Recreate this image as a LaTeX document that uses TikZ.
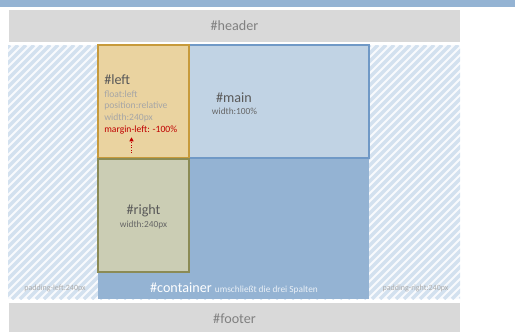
\documentclass[tikz,border=0pt]{standalone}
\usepackage{fontspec}
\setmainfont{Carlito}
\usetikzlibrary{arrows.meta}
\definecolor{bandblue}{HTML}{94B3D3}
\definecolor{mainfill}{HTML}{C1D3E4}
\definecolor{mainline}{HTML}{7099C6}
\definecolor{leftfill}{HTML}{EAD3A0}
\definecolor{leftline}{HTML}{C79A3B}
\definecolor{rightfill}{HTML}{CBCDB4}
\definecolor{rightline}{HTML}{8B8B55}
\definecolor{greybar}{HTML}{D9D9D9}
\definecolor{hatchbg}{HTML}{F8FAFD}
\definecolor{hatchline}{HTML}{D3E1EF}
\definecolor{darktext}{HTML}{595959}
\definecolor{softtext}{HTML}{A6A6A6}
\definecolor{marginred}{HTML}{C00000}
\tikzset{
  block/.style={rectangle, inner sep=0pt, minimum width=#1},
  title/.style={inner sep=0pt, text=darktext, font=\fontsize{10.6}{12}\selectfont},
  note/.style={inner sep=0pt, text=softtext, anchor=west, font=\fontsize{7.2}{8}\selectfont},
  hint/.style={inner sep=0pt, text=#1, font=\fontsize{7}{8}\selectfont},
  padnote/.style={inner sep=0pt, text=black!32, font=\fontsize{6}{7}\selectfont}
}

\begin{document}
\begin{tikzpicture}[x=0.75pt,y=-0.75pt]
\useasboundingbox (0,0) rectangle (515,332);
\node[block=386.25pt, minimum height=5.25pt, fill=bandblue] (band) at (257.5,3.5) {};
\node[block=338.25pt, minimum height=24pt, fill=greybar] (header) at (234.5,26) {};
\node[title, text=black!50] at (header) {\#header};
\begin{scope}
\clip (8,45) rectangle (460,299);
\fill[hatchbg] (8,45) rectangle (460,299);
\foreach \i in {-260,-252,...,460}
  \draw[hatchline, line width=2.5pt] (\i,299) -- ++(254,-254);
\end{scope}
\node[block=203.25pt, minimum height=190.5pt, fill=bandblue] (container) at (233.5,172) {};
\node[block=135pt, minimum height=84.75pt, fill=mainfill, draw=mainline, line width=1.1pt] (main) at (279,101.5) {};
\node[block=68.25pt, minimum height=84.75pt, fill=leftfill, draw=leftline, line width=0.8pt] (left) at (143.5,101.5) {};
\node[block=68.25pt, minimum height=84.75pt, fill=rightfill, draw=rightline, line width=0.8pt] (right) at (143.5,215.5) {};
\node[block=338.25pt, minimum height=21.75pt, fill=greybar] (footer) at (234.5,317.5) {};
\node[title, text=black!50] at (234.5,319) {\#footer};

\node[title, anchor=west] (lefttitle) at (104,80) {\#left};
\node[note] (lfloat) at (104,94) {float:left};
\node[note] (lpos) at (104,106) {position:relative};
\node[note] (lwidth) at (104,117.5) {width:240px};
\node[note, text=marginred] (lmargin) at (104,129.5) {margin-left: -100\%};
\coordinate (arrowfoot) at (131.5,153);
\draw[marginred, densely dotted, line width=0.8pt, shorten >=2.5pt, -{Triangle[length=3pt,width=3pt]}]
  (arrowfoot) -- (arrowfoot |- lmargin.south);

\node[title] (maintitle) at (234,97.5) {\#main};
\node[hint=black!60] (mainwidth) at (234.5,111) {width:100\%};
\node[title] (righttitle) at (143.5,210.5) {\#right};
\node[hint=black!60] (rightwidth) at (143.5,225) {width:240px};

\node[inner sep=0pt] (contlabel) at (234,288)
  {\fontsize{10.6}{12}\selectfont\color{white}\#container\ {\fontsize{7}{8}\selectfont\color{white!80!bandblue}umschließt die drei Spalten}};
\node[padnote] (padleft) at (55,288.5) {padding-left:240px};
\node[padnote] (padright) at (415.5,288.5) {padding-right:240px};
\end{tikzpicture}
\end{document}
